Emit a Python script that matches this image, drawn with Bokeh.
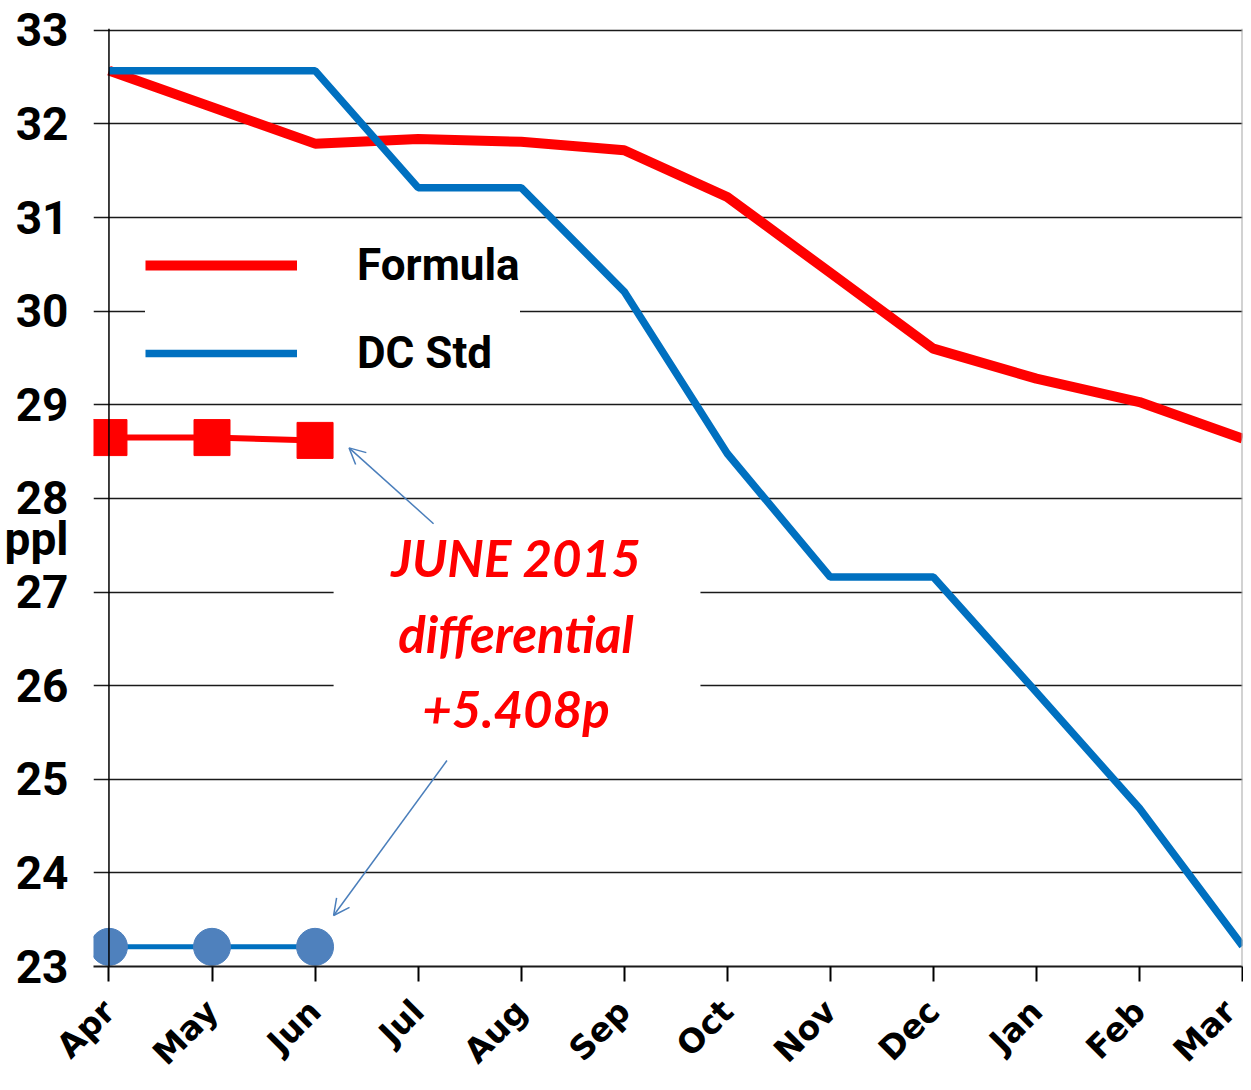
from bokeh.plotting import figure
from bokeh.models import (FixedTicker, Span, Legend, LegendItem, Label, Arrow,
                          OpenHead, BoxAnnotation, Range1d)
from bokeh.embed import file_html
from bokeh.resources import INLINE

months = ["Apr", "May", "Jun", "Jul", "Aug", "Sep", "Oct", "Nov", "Dec", "Jan", "Feb", "Mar"]
formula = [32.57, 32.18, 31.79, 31.84, 31.81, 31.72, 31.22, 30.41, 29.60, 29.28, 29.03, 28.64]
dc_std = [32.57, 32.57, 32.57, 31.32, 31.32, 30.21, 28.48, 27.16, 27.16, 25.93, 24.69, 23.22]
june_months = [0, 1, 2]
june_formula = [28.65, 28.65, 28.62]
june_dc_std = [23.21, 23.21, 23.21]
y_ticks = [23, 24, 25, 26, 27, 28, 29, 30, 31, 32, 33]
unit_label = "ppl"
unit_label_pos = 27.57
annotation_lines = ["JUNE 2015", "differential", "+5.408p"]

x = list(range(len(months)))

p = figure(width=1243, height=1090, output_backend="svg", toolbar_location=None,
           x_range=Range1d(-0.15, 11), y_range=Range1d(23, 33.02),
           min_border_left=93, min_border_right=1, min_border_top=28, min_border_bottom=124)
p.outline_line_color = None
p.background_fill_color = "white"

# grid
p.xgrid.visible = False
p.ygrid.ticker = FixedTicker(ticks=y_ticks)
p.ygrid.grid_line_color = "#1a1a1a"
p.ygrid.grid_line_width = 1.6

# y axis (tick labels plus the unit label)
p.yaxis.ticker = FixedTicker(ticks=y_ticks + [unit_label_pos])
p.yaxis.major_label_overrides = {unit_label_pos: unit_label}
p.yaxis.axis_line_color = None
p.yaxis.major_tick_line_color = None
p.yaxis.minor_tick_line_color = None
p.yaxis.major_tick_out = 0
p.yaxis.major_tick_in = 0
p.yaxis.major_label_standoff = 25
p.yaxis.major_label_text_font = "Roboto"
p.yaxis.major_label_text_font_style = "bold"
p.yaxis.major_label_text_font_size = "46px"
p.yaxis.major_label_text_color = "black"

# x axis
p.xaxis.ticker = FixedTicker(ticks=x)
p.xaxis.major_label_overrides = {i: m for i, m in enumerate(months)}
p.xaxis.axis_line_color = "#1a1a1a"
p.xaxis.axis_line_width = 2
p.xaxis.major_tick_line_color = "black"
p.xaxis.major_tick_line_width = 2
p.xaxis.major_tick_in = 0
p.xaxis.major_tick_out = 15
p.xaxis.minor_tick_line_color = None
p.xaxis.major_label_orientation = 0.785398
p.xaxis.major_label_standoff = 24
p.xaxis.major_label_text_font = "DejaVu Sans"
p.xaxis.major_label_text_font_style = "bold"
p.xaxis.major_label_text_font_size = "33px"
p.xaxis.major_label_text_color = "black"

# vertical axis line at Apr and right border
p.add_layout(Span(location=0, dimension="height", line_color="black", line_width=1.5))
p.add_layout(Span(location=11, dimension="height", line_color="#a6a6a6", line_width=2))

# main series
r_formula = p.line(x, formula, line_color="#ff0000", line_width=10)
r_dc = p.line(x, dc_std, line_color="#0070c0", line_width=7.5)

# june markers
p.line(june_months, june_formula, line_color="#ff0000", line_width=6)
p.scatter(june_months, june_formula, marker="square", size=36, fill_color="#ff0000", line_color="#ff0000")
p.line(june_months, june_dc_std, line_color="#0070c0", line_width=5)
p.scatter(june_months, june_dc_std, marker="circle", size=37, fill_color="#4f81bd", line_color="#4f81bd")

# legend
legend = Legend(items=[LegendItem(label="Formula", renderers=[r_formula]),
                       LegendItem(label="DC Std", renderers=[r_dc])],
                location=(52, 585), glyph_width=152, glyph_height=56, label_height=56,
                label_standoff=60, padding=12, spacing=32, margin=0,
                border_line_color=None, background_fill_color="white", background_fill_alpha=1,
                label_text_font="Roboto", label_text_font_style="bold",
                label_text_font_size="44px", label_text_color="black")
p.add_layout(legend)

# annotation box and text
p.add_layout(BoxAnnotation(left=2.18, right=5.74, bottom=25.36, top=27.77,
                           fill_color="white", fill_alpha=1, line_color=None))
for line_text, yy in zip(annotation_lines, [27.37, 26.56, 25.76]):
    p.add_layout(Label(x=3.95, y=yy, text=line_text, text_align="center", text_baseline="middle",
                       text_font="Lato", text_font_style="bold italic", text_font_size="51px",
                       text_color="#ff0000"))

arrow_color = "#4a7ebb"
p.add_layout(Arrow(end=OpenHead(size=16, line_color=arrow_color, line_width=1.5),
                   x_start=3.15, y_start=27.73, x_end=2.33, y_end=28.54,
                   line_color=arrow_color, line_width=1.5))
p.add_layout(Arrow(end=OpenHead(size=16, line_color=arrow_color, line_width=1.5),
                   x_start=3.28, y_start=25.20, x_end=2.18, y_end=23.545,
                   line_color=arrow_color, line_width=1.5))

open("out.html", "w").write(file_html(p, INLINE))
